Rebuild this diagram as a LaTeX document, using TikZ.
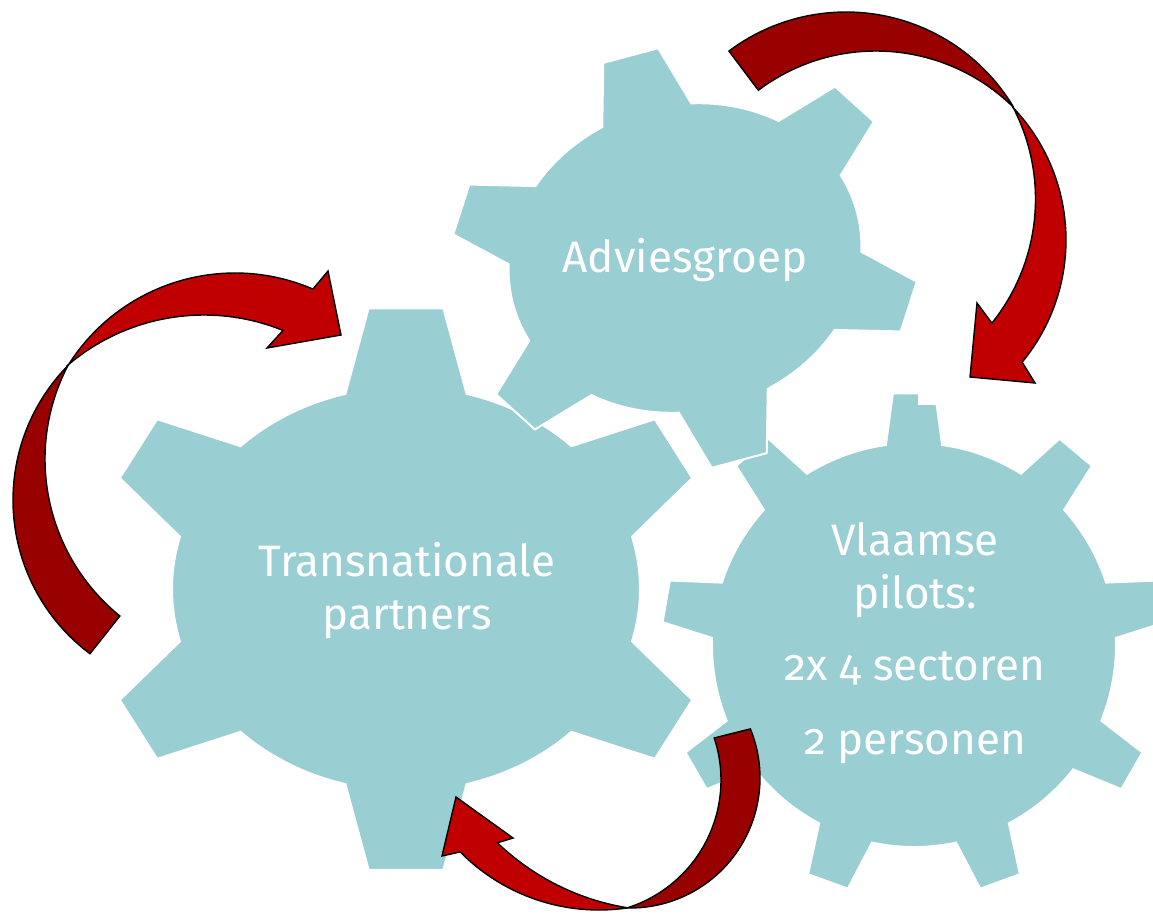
\documentclass[tikz,border=0pt]{standalone}
\usepackage{fontspec}
\setmainfont{Fira Sans}[Numbers=OldStyle]
\definecolor{gearteal}{RGB}{153,206,210}
\definecolor{arrowred}{RGB}{192,0,0}
\definecolor{arrowdark}{RGB}{153,0,0}
\tikzset{
  gear/.style={fill=gearteal,draw=white,line width=2pt},
  gtext/.style={text=white,font=\fontsize{44}{53}\selectfont,align=center},
  fwdband/.style={fill=arrowred,draw=black,line width=1.4pt},
  backband/.style={fill=arrowdark,draw=black,line width=1.4pt},
}
%% gear of unit body radius: #1 teeth, #2 first tooth, #3 tip radius,
%% #4 half angle at the base, #5 half angle at the tip
\newcommand{\gearshape}[5]{%
  \filldraw[gear] ({#2-#4}:1)
    \foreach \k in {1,...,#1} {
      -- ({#2+(\k-1)*360/#1-#5}:#3) -- ({#2+(\k-1)*360/#1+#5}:#3)
      -- ({#2+(\k-1)*360/#1+#4}:1)
      arc[start angle={#2+(\k-1)*360/#1+#4},end angle={#2+\k*360/#1-#4},radius=1]
    } -- cycle;}
\begin{document}
\begin{tikzpicture}[x=1pt,y=-1pt]
        \useasboundingbox (0,0) rectangle (1153,914);
        %% big gear
        \begin{scope}[shift={(406,589)},xscale=234,yscale=202]
            \gearshape{6}{30}{1.33 and 1.4}{15}{6.9}
        \end{scope}
        %% nine teeth gear
        \begin{scope}[shift={(914,645)},scale=202]
            \gearshape{9}{-90}{1.25}{8}{4.8}
        \end{scope}
        %% notch in its top tooth
        \fill[white] (918,388) rectangle (938,405);
        %% small gear on top
        \begin{scope}[shift={(685,258)},rotate=15,xscale=178,yscale=153]
            \gearshape{6}{30}{1.33 and 1.38}{15}{6.9}
        \end{scope}
        %% labels (base = last line)
        \node[gtext,anchor=base] (advies) at (685,272) {Adviesgroep};
        \node[gtext,anchor=base] (trans) at (407,629) {Transnationale\\partners};
        \node[gtext,anchor=base] (vlaams) at (915,754) {Vlaamse\\pilots:\\[19pt]2x 4 sectoren\\[21pt]2 personen};
        %% centres of the arrow edges
        \coordinate (la) at (205,500);
        \coordinate (lb) at (247,459);
        \coordinate (lc) at (235,470);
        \coordinate (ld) at (204,525);
        \coordinate (ra) at (846,207);
        \coordinate (rb) at (876,247);
        \coordinate (rc) at (874,240);
        \coordinate (rd) at (837,199);
        \coordinate (ba) at (630,778);
        \coordinate (bb) at (587,780);
        \coordinate (bc) at (599,715);
        \coordinate (bd) at (667,666);
        %% left arrow
        \filldraw[backband] ([shift={(126.8:192)}]la) arc[start angle=126.8,end angle=224.6,radius=192]
            -- ([shift={(207.7:202)}]lb) arc[start angle=207.7,end angle=129,radius=202] -- cycle;
        \filldraw[fwdband] ([shift={(212.2:197)}]lc) arc[start angle=212.2,end angle=293.3,radius=197]
            -- (328,271) -- (341,335) -- (267,348)
            -- ([shift={(292.1:210)}]ld) arc[start angle=292.1,end angle=229.6,radius=210] -- cycle;
        %% right arrow
        \filldraw[backband] ([shift={(233.1:195)}]ra) arc[start angle=233.1,end angle=329.1,radius=195]
            -- ([shift={(314.4:196)}]rb) arc[start angle=314.4,end angle=233.1,radius=196] -- cycle;
        \filldraw[fwdband] ([shift={(316.3:192)}]rc) arc[start angle=316.3,end angle=399.5,radius=192]
            -- (1035,383) -- (970,377) -- (977,303)
            -- ([shift={(38.7:198.5)}]rd) arc[start angle=38.7,end angle=-27.6,radius=198.5] -- cycle;
        %% bottom arrow
        \filldraw[backband] ([shift={(-22.2:130)}]ba) arc[start angle=-22.2,end angle=91.3,radius=130]
            -- ([shift={(72.6:134)}]bb) arc[start angle=72.6,end angle=-18.3,radius=134] -- cycle;
        \filldraw[fwdband] ([shift={(81.7:195)}]bc) arc[start angle=81.7,end angle=135.4,radius=195]
            -- (442,856) -- (456,797) -- (513,838)
            -- ([shift={(133.8:245)}]bd) arc[start angle=133.8,end angle=99.4,radius=245] -- cycle;
\end{tikzpicture}
\end{document}
